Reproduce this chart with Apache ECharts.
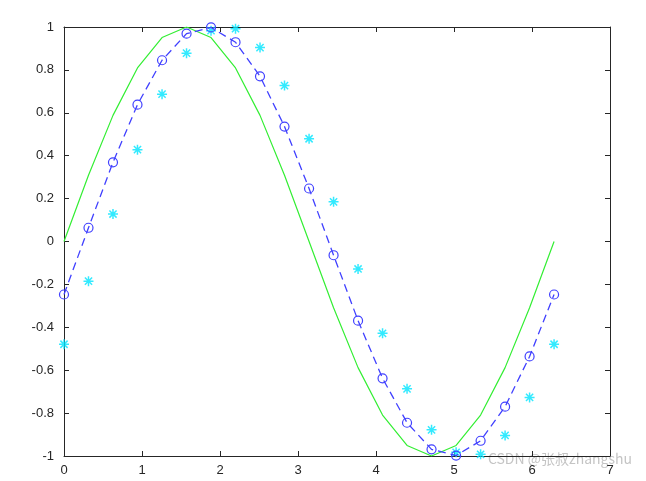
<!DOCTYPE html>
<html><head><meta charset="utf-8">
<script src="https://cdn.jsdelivr.net/npm/echarts@6/dist/echarts.min.js"></script>
<style>html,body{margin:0;padding:0;background:#fff}#c{width:646px;height:481px}</style>
</head><body><div id="c"></div>
<script>
const xs=[0,0.314,0.628,0.942,1.257,1.571,1.885,2.199,2.513,2.827,3.142,3.456,3.770,4.084,4.398,4.712,5.027,5.341,5.655,5.969,6.283];
const ySin=[0,0.309,0.588,0.809,0.951,1,0.951,0.809,0.588,0.309,0,-0.309,-0.588,-0.809,-0.951,-1,-0.951,-0.809,-0.588,-0.309,0];
const yCirc=[-0.247,0.064,0.369,0.638,0.845,0.969,0.998,0.929,0.770,0.536,0.247,-0.064,-0.369,-0.638,-0.845,-0.969,-0.998,-0.929,-0.770,-0.536,-0.247];
const yStar=[-0.479,-0.185,0.128,0.428,0.687,0.878,0.983,0.992,0.904,0.727,0.479,0.185,-0.128,-0.428,-0.687,-0.878,-0.983,-0.992,-0.904,-0.727,-0.479];
const pair=a=>xs.map((x,i)=>[x,a[i]]);
const ch=echarts.init(document.getElementById('c'));
const lab={color:'#262626',fontSize:13,fontFamily:'Arial, Liberation Sans'};
const line={show:true,onZero:false,lineStyle:{color:'#262626',width:1}};
const tick={show:true,inside:true,length:5,lineStyle:{color:'#262626'}};
ch.setOption({
 animation:false,
 grid:{left:64,right:36,top:27,bottom:25},
 xAxis:[{type:'value',min:0,max:7,interval:1,axisLine:line,axisTick:tick,splitLine:{show:false},axisLabel:lab},
        {type:'value',position:'top',min:0,max:7,interval:1,axisLine:line,axisTick:tick,splitLine:{show:false},axisLabel:{show:false}}],
 yAxis:[{type:'value',min:-1,max:1,interval:0.2,axisLine:line,axisTick:tick,splitLine:{show:false},axisLabel:Object.assign({formatter:v=>String(Math.round(v*10)/10),margin:10},lab)},
        {type:'value',position:'right',min:-1,max:1,interval:0.2,axisLine:line,axisTick:tick,splitLine:{show:false},axisLabel:{show:false}}],
 series:[
  {type:'line',data:pair(ySin),showSymbol:false,symbol:'none',lineStyle:{color:'#33ee33',width:1.2}},
  {type:'line',data:pair(yCirc),symbol:'circle',symbolSize:9,itemStyle:{color:'rgba(0,0,0,0)',borderColor:'#4040ff',borderWidth:1.2},lineStyle:{color:'#4040ff',width:1.3,type:[8,5]}},
  {type:'scatter',data:pair(yStar),symbol:'path://M0,-5L0,5M-5,0L5,0M-3.6,-3.6L3.6,3.6M-3.6,3.6L3.6,-3.6',symbolSize:10,itemStyle:{color:'rgba(0,0,0,0)',borderColor:'#00e5ff',borderWidth:1.5}}
 ],
 graphic:[{type:'text',right:14,top:452,style:{text:'CSDN @张叔zhangshu',fill:'rgba(190,190,190,0.9)',font:'14px "Noto Sans CJK SC", sans-serif'}}]
});
</script></body></html>
